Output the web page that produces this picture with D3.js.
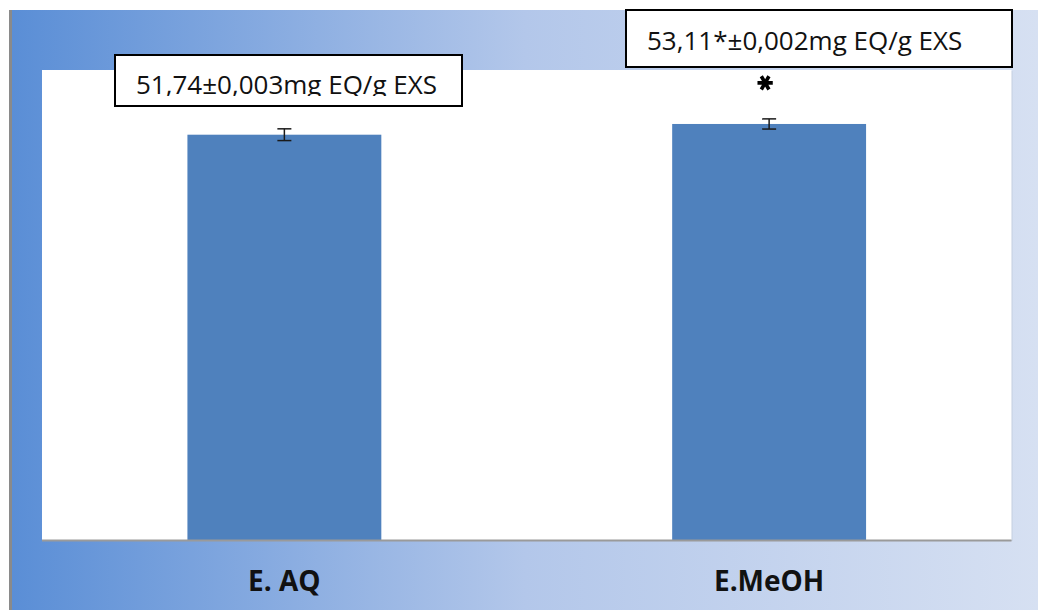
<!DOCTYPE html>
<html>
<head>
<meta charset="utf-8">
<script src="https://cdn.jsdelivr.net/npm/d3@7/dist/d3.min.js"></script>
<style>
  html, body { margin: 0; padding: 0; background: #ffffff; }
  svg { display: block; }
</style>
</head>
<body>
<svg id="chart" width="1038" height="610"></svg>
<script>
// Extract content (mg EQ/g EXS)
const categories = ["E. AQ", "E.MeOH"];
const values = [51.74, 53.11];
const errors = [0.75, 0.65];
const valueLabels = ["51,74±0,003mg EQ/g EXS", "53,11*±0,002mg EQ/g EXS"];
const significant = [false, true];

const W = 1038, H = 610;
const svg = d3.select("#chart");
const defs = svg.append("defs");

// Background gradient panel
const grad = defs.append("linearGradient").attr("id", "bg").attr("x1", "0%").attr("x2", "100%").attr("y1", "0%").attr("y2", "0%");
grad.append("stop").attr("offset", "0%").attr("stop-color", "#5a8ed6");
grad.append("stop").attr("offset", "50%").attr("stop-color", "#b3c7ea");
grad.append("stop").attr("offset", "100%").attr("stop-color", "#d6e0f2");

svg.append("rect").attr("x", 9).attr("y", 10).attr("width", 3).attr("height", H - 10).attr("fill", "#8a8a8a");
svg.append("rect").attr("x", 12).attr("y", 10).attr("width", W - 12).attr("height", H - 10).attr("fill", "url(#bg)");

// Plot area
const plot = { left: 42, top: 70, right: 1011.5, bottom: 540 };
svg.append("rect").attr("x", plot.left + 1).attr("y", plot.top + 1)
  .attr("width", plot.right - plot.left).attr("height", plot.bottom - plot.top)
  .attr("fill", "#c4cfe0");
svg.append("rect").attr("x", plot.left).attr("y", plot.top)
  .attr("width", plot.right - plot.left).attr("height", plot.bottom - plot.top)
  .attr("fill", "#ffffff");

const x = d3.scaleBand().domain(categories).range([plot.left, plot.right])
  .paddingInner(0.6).paddingOuter(0.3);
const y = d3.scaleLinear().domain([0, 60]).range([plot.bottom, plot.top]);

const data = categories.map((c, i) => ({ c, v: values[i], e: errors[i], label: valueLabels[i], sig: significant[i] }));

// Bars
svg.append("g").selectAll("rect").data(data).join("rect")
  .attr("x", d => x(d.c)).attr("y", d => y(d.v))
  .attr("width", x.bandwidth()).attr("height", d => y(0) - y(d.v))
  .attr("fill", "#4f81bd");

// Baseline
svg.append("line").attr("x1", plot.left).attr("x2", plot.right)
  .attr("y1", plot.bottom + 0.5).attr("y2", plot.bottom + 0.5)
  .attr("stroke", "#9a9a9a").attr("stroke-width", 2);

// Error bars
const eb = svg.append("g").attr("stroke", "#1a1a1a").attr("stroke-width", 1.5);
data.forEach(d => {
  const cx = x(d.c) + x.bandwidth() / 2;
  eb.append("line").attr("x1", cx).attr("x2", cx).attr("y1", y(d.v + d.e)).attr("y2", y(d.v - d.e));
  eb.append("line").attr("x1", cx - 7).attr("x2", cx + 7).attr("y1", y(d.v + d.e)).attr("y2", y(d.v + d.e));
  eb.append("line").attr("x1", cx - 7).attr("x2", cx + 7).attr("y1", y(d.v - d.e)).attr("y2", y(d.v - d.e));
});

// Significance marker
data.filter(d => d.sig).forEach(d => {
  const cx = x(d.c) + x.bandwidth() / 2 - 4;
  svg.append("path")
    .attr("d", d3.symbol().type(d3.symbolAsterisk).size(165)())
    .attr("transform", `translate(${cx},${y(d.v + d.e) - 36}) rotate(90)`)
    .attr("fill", "none").attr("stroke", "#000").attr("stroke-width", 3.6);
});

// Value callout boxes
const boxes = [
  { x: 115, y: 55, w: 347, h: 51, tx: 136, ty: 94, clip: 96 },
  { x: 626, y: 10, w: 386, h: 57, tx: 647, ty: 49.5, clip: null }
];
data.forEach((d, i) => {
  const b = boxes[i];
  svg.append("rect").attr("x", b.x).attr("y", b.y).attr("width", b.w).attr("height", b.h)
    .attr("fill", "#ffffff").attr("stroke", "#000").attr("stroke-width", 2);
  const t = svg.append("text").attr("x", b.tx).attr("y", b.ty)
    .attr("font-family", "'Open Sans', sans-serif").attr("font-size", 26)
    .attr("fill", "#111").text(d.label);
  if (b.clip !== null) {
    const id = "clip" + i;
    defs.append("clipPath").attr("id", id).append("rect")
      .attr("x", b.x).attr("y", b.y).attr("width", b.w).attr("height", b.clip - b.y);
    t.attr("clip-path", `url(#${id})`);
  }
});

// Category labels
svg.append("g").selectAll("text").data(data).join("text")
  .attr("x", d => x(d.c) + x.bandwidth() / 2)
  .attr("y", 591)
  .attr("text-anchor", "middle")
  .attr("font-family", "'Open Sans', sans-serif").attr("font-weight", "bold")
  .attr("font-size", 28).attr("fill", "#111")
  .text(d => d.c);
</script>
</body>
</html>
